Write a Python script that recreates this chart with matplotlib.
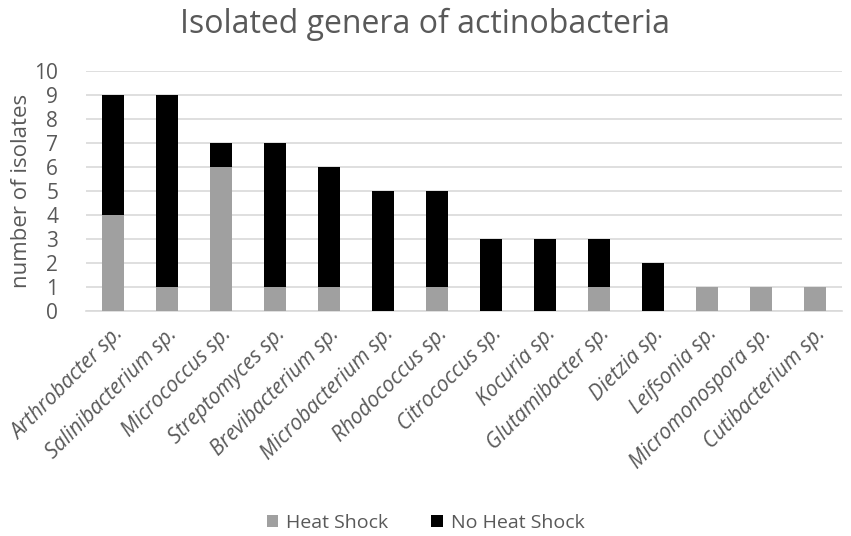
import numpy as np
import matplotlib.pyplot as plt

genera = ["Arthrobacter sp.", "Salinibacterium sp.", "Micrococcus sp.",
          "Streptomyces sp.", "Brevibacterium sp.", "Microbacterium sp.",
          "Rhodococcus sp.", "Citrococcus sp.", "Kocuria sp.",
          "Glutamibacter sp.", "Dietzia sp.", "Leifsonia sp.",
          "Micromonospora sp.", "Cutibacterium sp."]
heat_shock = [4, 1, 6, 1, 1, 0, 1, 0, 0, 1, 0, 1, 1, 1]
no_heat_shock = [5, 8, 1, 6, 5, 5, 4, 3, 3, 2, 2, 0, 0, 0]

text_col = "#595959"
plt.rcParams["font.family"] = ["Open Sans", "DejaVu Sans"]

fig = plt.figure(figsize=(8.51, 5.36), dpi=100)
ax = fig.add_axes([0.101, 0.42, 0.888, 0.4475])

x = np.arange(len(genera))
ax.bar(x, heat_shock, width=0.41, color="#a0a0a0", label="Heat Shock", zorder=3)
ax.bar(x, no_heat_shock, width=0.41, bottom=heat_shock, color="#000000",
       label="No Heat Shock", zorder=3)

ax.set_xlim(-0.5, len(genera) - 0.5)
ax.set_ylim(0, 10)
ax.set_yticks(range(0, 11))
ax.yaxis.grid(True, color="#d9d9d9", linewidth=1.2, zorder=0)
for s in ["top", "right", "left"]:
    ax.spines[s].set_visible(False)
ax.spines["bottom"].set_color("#d9d9d9")
ax.spines["bottom"].set_linewidth(1.2)
ax.tick_params(axis="both", length=0, colors=text_col, labelsize=15)
ax.tick_params(axis="y", pad=20)

ax.set_xticks(x)
ax.set_xticklabels(genera, rotation=45, ha="right", rotation_mode="anchor",
                   style="italic", fontsize=15, color=text_col)
ax.tick_params(axis="x", pad=9)

ax.set_ylabel("number of isolates", color=text_col, fontsize=16, labelpad=2)
fig.suptitle("Isolated genera of actinobacteria", color=text_col,
             fontsize=23, y=0.985)

fig.legend(loc="lower center", bbox_to_anchor=(0.5, -0.025), ncol=2,
           frameon=False, fontsize=14, labelcolor=text_col,
           handlelength=0.6, handleheight=0.6, columnspacing=2.2,
           handletextpad=0.4)

fig.savefig("out.png", dpi=100)
